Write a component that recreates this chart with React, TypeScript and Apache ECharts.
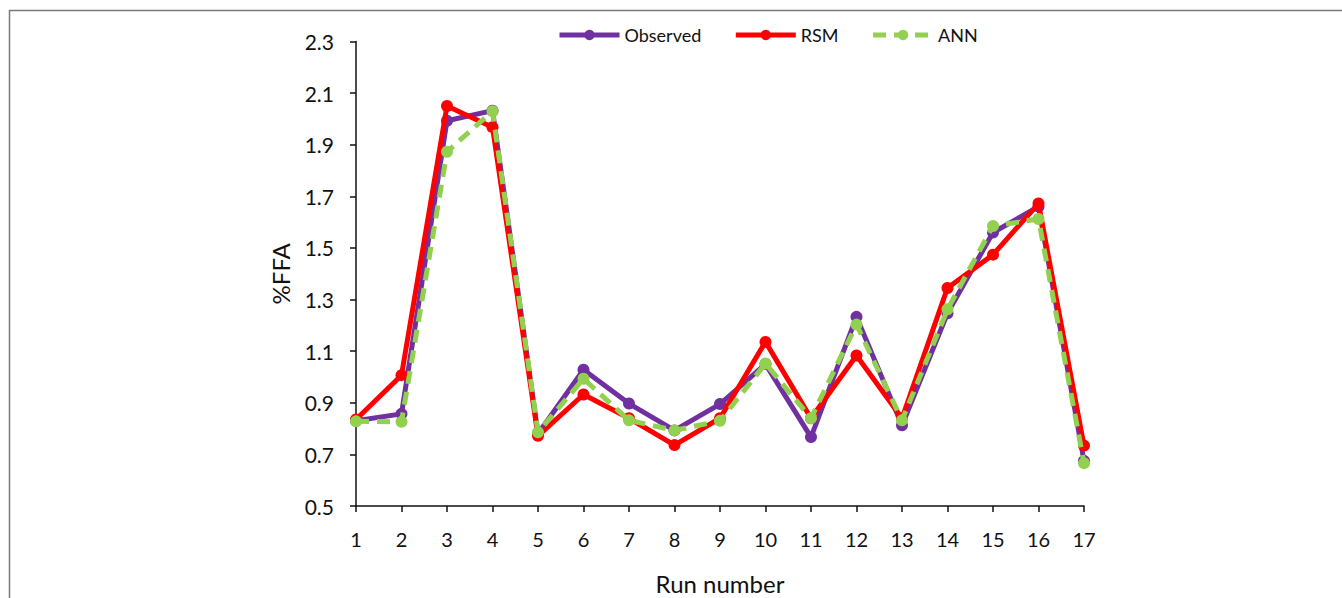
import React, { useEffect, useRef } from "react";
import * as echarts from "echarts";

const runs = ["1","2","3","4","5","6","7","8","9","10","11","12","13","14","15","16","17"];
const observed = [0.83, 0.857, 1.993, 2.032, 0.78, 1.028, 0.897, 0.793, 0.895, 1.05, 0.767, 1.233, 0.813, 1.247, 1.56, 1.66, 0.675];
const rsm = [0.835, 1.007, 2.05, 1.968, 0.772, 0.932, 0.84, 0.736, 0.84, 1.136, 0.84, 1.083, 0.84, 1.345, 1.474, 1.672, 0.734];
const ann = [0.828, 0.826, 1.873, 2.03, 0.786, 0.993, 0.832, 0.793, 0.83, 1.052, 0.84, 1.203, 0.832, 1.262, 1.585, 1.612, 0.666];
const yTicks = { min: 0.5, max: 2.3, interval: 0.2 };

const FONT = "Lato, 'Open Sans', sans-serif";
const W = 1342;
const H = 598;

export default function App() {
  const ref = useRef<HTMLDivElement>(null);
  useEffect(() => {
    document.body.style.margin = "0";
    document.body.style.overflow = "hidden";
    if (!ref.current) return;
    const chart = echarts.init(ref.current, undefined, { renderer: "svg", width: W, height: H });
    const mk = (name: string, data: number[], color: string, dashed: boolean) => ({
      name,
      type: "line",
      data,
      symbol: "circle",
      symbolSize: 12,
      lineStyle: { color, width: 5, type: dashed ? [13, 8] : "solid" },
      itemStyle: { color },
      z: dashed ? 4 : name === "RSM" ? 3 : 2,
    });
    chart.setOption({
      animation: false,
      backgroundColor: "#ffffff",
      textStyle: { fontFamily: FONT },
      graphic: [
        {
          type: "rect",
          shape: { x: 9.5, y: 10.5, width: 1400, height: 700 },
          style: { fill: "none", stroke: "#7a7a7a", lineWidth: 1.5 },
          silent: true,
        },
      ],
      legend: {
        top: 26,
        left: 557,
        padding: 0,
        itemWidth: 60,
        itemHeight: 13,
        itemGap: 32,
        lineStyle: { width: 5 },
        textStyle: { fontSize: 18, color: "#111", fontFamily: FONT },
        data: ["Observed", "RSM", "ANN"],
      },
      grid: {
        left: 356,
        right: 258,
        top: 41.5,
        bottom: 92,
        containLabel: false,
        outerBoundsMode: "none",
      },
      xAxis: {
        type: "category",
        data: runs,
        boundaryGap: false,
        name: "Run number",
        nameLocation: "middle",
        nameGap: 64,
        nameTextStyle: { fontSize: 24, color: "#111", fontFamily: FONT, lineHeight: 26 },
        axisLine: { lineStyle: { color: "#111", width: 1.5 } },
        axisTick: { show: true, alignWithLabel: true, length: 6, inside: false, lineStyle: { color: "#111", width: 1.5 } },
        axisLabel: { fontSize: 20, color: "#111", margin: 23, fontFamily: FONT },
        splitLine: { show: false },
      },
      yAxis: {
        type: "value",
        min: yTicks.min,
        max: yTicks.max,
        interval: yTicks.interval,
        name: "%FFA",
        nameLocation: "middle",
        nameGap: 64,
        nameTextStyle: { fontSize: 24, color: "#111", fontFamily: FONT },
        axisLine: { show: true, lineStyle: { color: "#111", width: 1.5 } },
        axisTick: { show: true, length: 6, lineStyle: { color: "#111", width: 1.5 } },
        axisLabel: {
          fontSize: 21,
          color: "#111",
          margin: 22,
          fontFamily: FONT,
          formatter: (v: number) => v.toFixed(1),
        },
        splitLine: { show: false },
      },
      series: [
        mk("Observed", observed, "#7030A0", false),
        mk("RSM", rsm, "#FF0000", false),
        mk("ANN", ann, "#92D050", true),
      ],
    });
    return () => chart.dispose();
  }, []);
  return <div ref={ref} style={{ width: W, height: H, background: "#fff" }} />;
}
